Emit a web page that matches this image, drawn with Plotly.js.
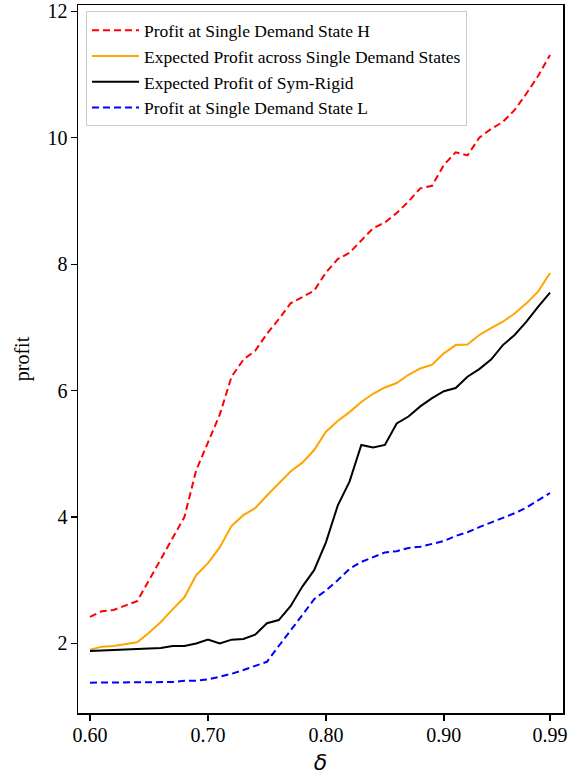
<!DOCTYPE html>
<html>
<head>
<meta charset="utf-8">
<script src="https://cdn.plot.ly/plotly-3.0.1.min.js"></script>
<style>html,body{margin:0;padding:0;background:#fff;}#chart{width:579px;height:778px;}</style>
</head>
<body>
<div id="chart"></div>
<script>
const delta = [0.60,0.61,0.62,0.63,0.64,0.65,0.66,0.67,0.68,0.69,
               0.70,0.71,0.72,0.73,0.74,0.75,0.76,0.77,0.78,0.79,
               0.80,0.81,0.82,0.83,0.84,0.85,0.86,0.87,0.88,0.89,
               0.90,0.91,0.92,0.93,0.94,0.95,0.96,0.97,0.98,0.99];

const profitH = [2.42,2.51,2.53,2.60,2.67,3.00,3.33,3.67,4.00,4.74,
                 5.18,5.62,6.22,6.49,6.63,6.90,7.13,7.38,7.48,7.58,
                 7.87,8.08,8.18,8.37,8.57,8.66,8.81,8.99,9.20,9.24,
                 9.57,9.77,9.72,10.00,10.14,10.25,10.44,10.70,10.98,11.31];

const expectedSingle = [1.90,1.95,1.96,1.99,2.02,2.17,2.34,2.54,2.73,3.08,
                        3.27,3.52,3.86,4.03,4.14,4.34,4.53,4.72,4.86,5.06,
                        5.35,5.52,5.66,5.82,5.95,6.05,6.12,6.25,6.35,6.41,
                        6.59,6.72,6.73,6.88,6.99,7.09,7.22,7.38,7.57,7.86];

const expectedSymRigid = [1.88,1.89,1.90,1.91,1.92,1.92,1.93,1.96,1.96,2.00,
                          2.06,2.00,2.06,2.07,2.14,2.32,2.37,2.59,2.90,3.16,
                          3.60,4.18,4.56,5.14,5.10,5.14,5.48,5.59,5.75,5.88,
                          5.99,6.04,6.22,6.34,6.49,6.72,6.88,7.09,7.33,7.55];

const profitL = [1.38,1.38,1.38,1.38,1.38,1.39,1.39,1.39,1.41,1.41,
                 1.43,1.47,1.52,1.58,1.65,1.71,1.96,2.20,2.45,2.70,
                 2.84,3.00,3.18,3.29,3.36,3.44,3.46,3.51,3.53,3.57,
                 3.62,3.70,3.76,3.84,3.91,3.99,4.06,4.15,4.26,4.38];

const seriesNames = ['Profit at Single Demand State H',
                     'Expected Profit across Single Demand States',
                     'Expected Profit of Sym-Rigid',
                     'Profit at Single Demand State L'];

const xTickVals = [0.60,0.70,0.80,0.90,0.99];
const xTickText = ['0.60','0.70','0.80','0.90','0.99'];
const yTickVals = [2,4,6,8,10,12];

const serif = 'Liberation Serif, Times New Roman, serif';

const traces = [
  {x: delta, y: profitH, name: seriesNames[0], mode: 'lines',
   line: {color: '#ff0000', width: 2, dash: '7px,4px'}},
  {x: delta, y: expectedSingle, name: seriesNames[1], mode: 'lines',
   line: {color: '#ffa500', width: 2}},
  {x: delta, y: expectedSymRigid, name: seriesNames[2], mode: 'lines',
   line: {color: '#000000', width: 2}},
  {x: delta, y: profitL, name: seriesNames[3], mode: 'lines',
   line: {color: '#0000ff', width: 2, dash: '7px,4px'}}
];

const layout = {
  width: 579, height: 778,
  margin: {l: 78, r: 16, t: 5, b: 65, pad: 0},
  paper_bgcolor: '#ffffff', plot_bgcolor: '#ffffff',
  font: {family: serif, color: '#000000'},
  showlegend: true,
  legend: {
    x: 0.0165, y: 0.991, xanchor: 'left', yanchor: 'top',
    bgcolor: 'rgba(255,255,255,0.9)', bordercolor: '#cccccc', borderwidth: 1,
    font: {family: serif, size: 17.5, color: '#000000'},
    itemwidth: 47,
    traceorder: 'normal'
  },
  xaxis: {
    range: [0.5898, 1.001],
    tickmode: 'array', tickvals: xTickVals, ticktext: xTickText,
    ticks: 'outside', ticklen: 6, tickwidth: 1.3, tickcolor: '#000',
    ticklabelstandoff: -3,
    showline: true, linecolor: '#000', linewidth: 1.5, mirror: true,
    showgrid: false, zeroline: false,
    tickfont: {family: serif, size: 20, color: '#000'},
    title: {text: '<i>δ</i>', font: {family: 'DejaVu Sans, sans-serif', size: 22, color: '#000'}, standoff: 10}
  },
  yaxis: {
    range: [0.90, 12.10],
    tickmode: 'array', tickvals: yTickVals,
    ticks: 'outside', ticklen: 6, tickwidth: 1.3, tickcolor: '#000',
    ticklabelstandoff: -1,
    showline: true, linecolor: '#000', linewidth: 1.5, mirror: true,
    showgrid: false, zeroline: false,
    tickfont: {family: serif, size: 20, color: '#000'},
    title: {text: 'profit', font: {family: serif, size: 20, color: '#000'}, standoff: 12}
  }
};

Plotly.newPlot('chart', traces, layout, {displayModeBar: false, staticPlot: true});
</script>
</body>
</html>
